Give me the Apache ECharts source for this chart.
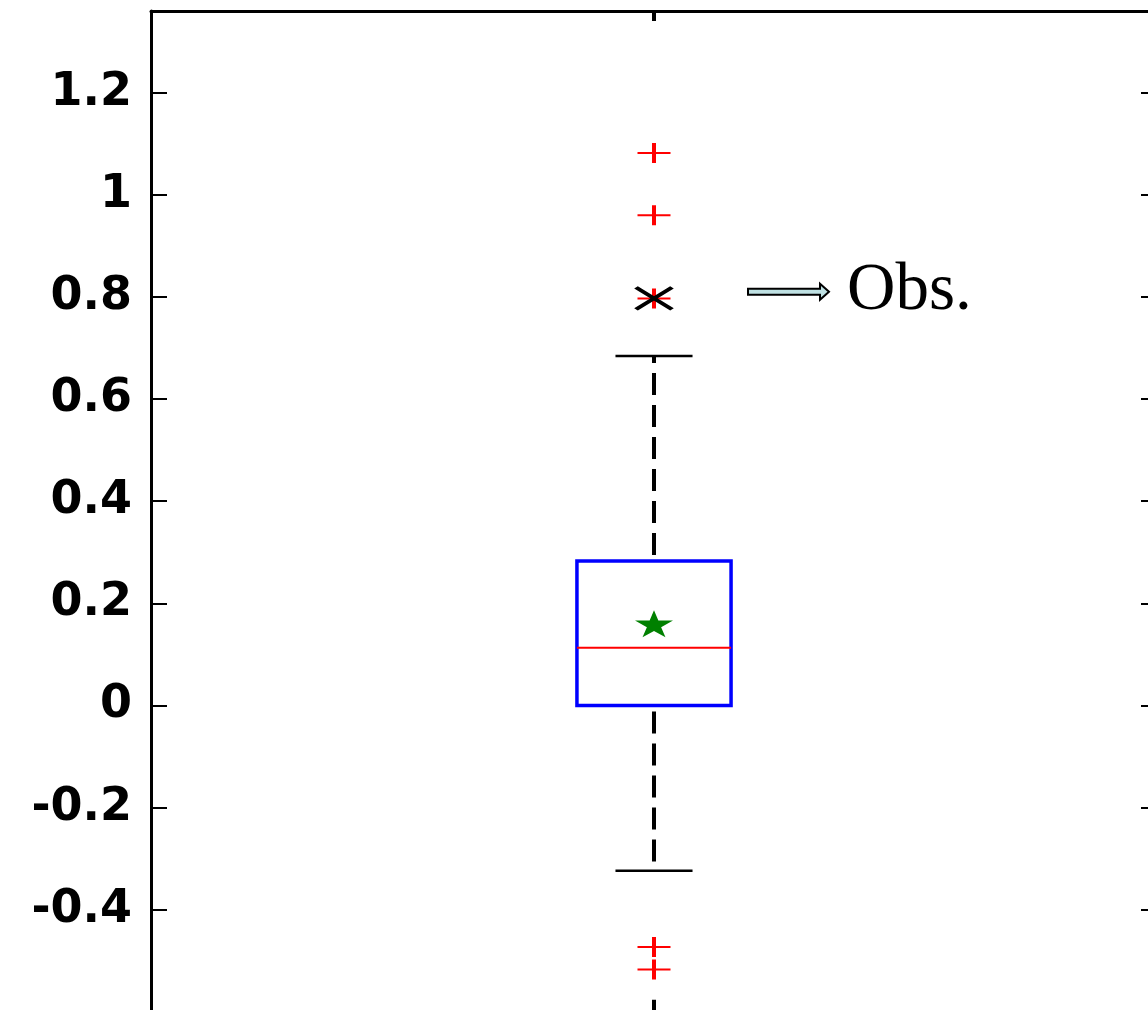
<!DOCTYPE html>
<html>
<head>
<meta charset="utf-8">
<title>Box plot</title>
<script src="https://cdn.jsdelivr.net/npm/echarts@6/dist/echarts.min.js"></script>
<style>
  html, body { margin: 0; padding: 0; background: #ffffff; }
  #chart { width: 1148px; height: 1010px; }
</style>
</head>
<body>
<div id="chart"></div>
<script>
// Single group on the category axis
const categories = [''];
// Lower whisker, Q1, median, Q3, upper whisker
const boxStats = [-0.324, 0.0, 0.113, 0.283, 0.6845];
// Points beyond the whiskers
const outliers = [1.082, 0.960, 0.797, -0.473, -0.517];
// Mean of the sample
const meanValues = [0.160];
// Observed value, annotated with an arrow
const observedValues = [0.797];
const observedLabel = 'Obs.';
// Value axis range and step
const yMin = -0.6;
const yMax = 1.36;
const yStep = 0.2;

const chart = echarts.init(document.getElementById('chart'), null, { renderer: 'canvas' });

const black = '#000000';

function tickLabel(v) {
  const k = Math.round(v / yStep);
  if (Math.abs(v - k * yStep) > 1e-6) return '';
  if (v < -0.5 || v > 1.3) return '';
  return String(Math.round(v * 10) / 10);
}

// Box, median and dashed whiskers with caps
function renderBox(params, api) {
  const c = api.value(0);
  const lw = api.coord([c, api.value(1)]);
  const q1 = api.coord([c, api.value(2)]);
  const md = api.coord([c, api.value(3)]);
  const q3 = api.coord([c, api.value(4)]);
  const uw = api.coord([c, api.value(5)]);
  const band = api.size([1, 0])[0];
  const boxHalf = band * 0.0766;
  const capHalf = band * 0.0383;
  const x = q1[0];
  const dash = { stroke: black, lineWidth: 4, lineDash: [22, 10], lineDashOffset: 26 };
  return {
    type: 'group',
    children: [
      { type: 'line', shape: { x1: x, y1: q3[1], x2: x, y2: uw[1] }, style: dash },
      { type: 'line', shape: { x1: x, y1: q1[1], x2: x, y2: lw[1] }, style: dash },
      { type: 'line', shape: { x1: x - capHalf, y1: uw[1], x2: x + capHalf, y2: uw[1] },
        style: { stroke: black, lineWidth: 2.5 } },
      { type: 'line', shape: { x1: x - capHalf, y1: lw[1], x2: x + capHalf, y2: lw[1] },
        style: { stroke: black, lineWidth: 2.5 } },
      { type: 'rect', shape: { x: x - boxHalf, y: q3[1], width: boxHalf * 2, height: q1[1] - q3[1] },
        style: { fill: null, stroke: '#0000ff', lineWidth: 3.5 } },
      { type: 'line', shape: { x1: x - boxHalf, y1: md[1], x2: x + boxHalf, y2: md[1] },
        style: { stroke: '#ff0000', lineWidth: 2 } }
    ]
  };
}

// Arrow and label pointing at the observed value
function renderObsNote(params, api) {
  const p = api.coord([api.value(0), api.value(1)]);
  const x = p[0], y = p[1];
  return {
    type: 'group',
    children: [
      {
        type: 'polygon',
        shape: {
          points: [
            [x + 94, y - 9.7], [x + 166, y - 9.7], [x + 166, y - 14.7],
            [x + 175, y - 6.7],
            [x + 166, y + 1.3], [x + 166, y - 3.7], [x + 94, y - 3.7]
          ]
        },
        style: { fill: '#bfe1e3', stroke: black, lineWidth: 2 }
      },
      {
        type: 'text',
        style: {
          x: x + 193, y: y + 26,
          text: observedLabel,
          fill: black,
          font: '67px "Liberation Serif", "Times New Roman", serif',
          align: 'left',
          verticalAlign: 'bottom'
        }
      }
    ]
  };
}

const plusPath = 'path://M0,9H33V11H0Z M14.5,0H18.5V20H14.5Z';
const crossPath = 'path://M0,0L36,22M0,22L36,0';
const starPath = 'path://M50,0L61,35L98,35L68,57L79,91L50,70L21,91L32,57L2,35L39,35Z';

const yAxisBase = {
  type: 'value',
  min: yMin,
  max: yMax,
  interval: yStep,
  splitLine: { show: false },
  axisLine: { show: true, onZero: false, lineStyle: { color: black, width: 3 } },
  axisTick: { show: true, inside: true, length: 16, lineStyle: { color: black, width: 2 } }
};

const xAxisBase = {
  type: 'category',
  data: categories,
  boundaryGap: true,
  splitLine: { show: false },
  axisLabel: { show: false },
  axisLine: { show: true, onZero: false, lineStyle: { color: black, width: 3 } }
};

chart.setOption({
  animation: false,
  backgroundColor: '#ffffff',
  grid: {
    left: 151, top: 11, width: 1006, height: 1000.8,
    containLabel: false,
    outerBoundsMode: 'none'
  },
  xAxis: [
    Object.assign({}, xAxisBase, {
      position: 'bottom',
      axisTick: { show: true, inside: true, alignWithLabel: true, length: 12, lineStyle: { color: black, width: 4 } }
    }),
    Object.assign({}, xAxisBase, {
      position: 'top',
      axisTick: { show: true, inside: true, alignWithLabel: true, length: 10, lineStyle: { color: black, width: 4 } }
    })
  ],
  yAxis: [
    Object.assign({}, yAxisBase, {
      position: 'left',
      axisLabel: {
        show: true,
        margin: 19,
        color: black,
        fontFamily: '"DejaVu Sans", Arial, sans-serif',
        fontWeight: 'bold',
        fontSize: 46,
        formatter: tickLabel,
        showMinLabel: true,
        showMaxLabel: true
      }
    }),
    Object.assign({}, yAxisBase, {
      position: 'right',
      axisLabel: { show: false }
    })
  ],
  series: [
    {
      type: 'custom',
      name: 'box',
      xAxisIndex: 0,
      yAxisIndex: 0,
      renderItem: renderBox,
      encode: { x: 0, y: [1, 2, 3, 4, 5] },
      data: categories.map((c, i) => [i].concat(boxStats)),
      z: 2,
      silent: true
    },
    {
      type: 'scatter',
      name: 'outliers',
      symbol: plusPath,
      symbolSize: [33, 20],
      itemStyle: { color: '#ff0000', opacity: 1 },
      data: outliers.map(v => [0, v]),
      z: 3,
      silent: true
    },
    {
      type: 'scatter',
      name: 'observed',
      symbol: crossPath,
      symbolSize: [36, 22],
      itemStyle: { color: 'transparent', borderColor: black, borderWidth: 4, opacity: 1 },
      data: observedValues.map(v => [0, v]),
      z: 4,
      silent: true
    },
    {
      type: 'scatter',
      name: 'mean',
      symbol: starPath,
      symbolSize: [38, 27],
      itemStyle: { color: '#008000', opacity: 1 },
      data: meanValues.map(v => [0, v]),
      z: 4,
      silent: true
    },
    {
      type: 'custom',
      name: 'note',
      renderItem: renderObsNote,
      encode: { x: 0, y: 1 },
      data: observedValues.map(v => [0, v]),
      clip: false,
      z: 5,
      silent: true
    }
  ]
});
</script>
</body>
</html>
